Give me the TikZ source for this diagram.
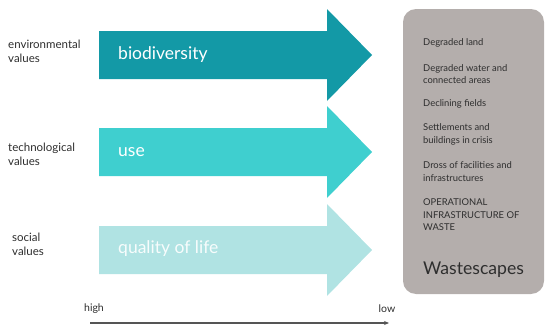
\documentclass[tikz,border=0pt]{standalone}
\usepackage{fontspec}
\setmainfont{Lato}
\usepackage{tikz}
\usetikzlibrary{arrows.meta,positioning}
\definecolor{deepteal}{HTML}{1399A6}
\definecolor{midteal}{HTML}{3FCFCF}
\definecolor{paleteal}{HTML}{B0E3E3}
\definecolor{wastegrey}{HTML}{B4AEAC}
\definecolor{ink}{HTML}{2E2E2E}
\definecolor{axisgrey}{HTML}{555555}
\tikzset{
    every picture/.style={line join=miter},
    valuelabel/.style={anchor=west,align=left,text=ink,inner sep=0pt,
      font=\fontsize{11.5}{14}\selectfont},
    arrowtext/.style={anchor=west,inner sep=0pt,text=white,
      font=\fontsize{17.5}{19}\selectfont},
    wastebox/.style={fill=wastegrey,rounded corners=13pt,inner sep=0pt,
      minimum width=141pt,minimum height=285pt},
    wasteitem/.style={anchor=west,align=left,text=ink,inner sep=0pt,
      font=\fontsize{9.4}{12.6}\selectfont},
    axislabel/.style={text=ink,inner sep=0pt,font=\fontsize{10.5}{12}\selectfont},
    axisarrow/.style={-{Stealth[length=5pt,width=4pt]},draw=axisgrey,line width=1.2pt}
}
\begin{document}
\begin{tikzpicture}[x=1pt,y=-1pt]
  \useasboundingbox (0,0) rectangle (550,332);
  % value arrows
  \fill[deepteal] (99,31) -- (327,31) -- (327,9) -- (372,55) -- (327,101) -- (327,79) -- (99,79) -- cycle;
  \fill[midteal] (99,128) -- (327,128) -- (327,106) -- (372,152) -- (327,198) -- (327,176) -- (99,176) -- cycle;
  \fill[paleteal] (99,226) -- (327,226) -- (327,204) -- (372,250) -- (327,296) -- (327,274) -- (99,274) -- cycle;
  \node[arrowtext] (bio) at (118,55) {biodiversity};
  \node[arrowtext] (use) at (118,152) {use};
  \node[arrowtext,text opacity=0.9] (qol) at (118,249) {quality of life};
  \node[valuelabel] (env) at (8,51) {environmental\\values};
  \node[valuelabel] (tech) at (8,154) {technological\\values};
  \node[valuelabel] (soc) at (12,244) {social\\values};
  % wastescapes box
  \node[wastebox] (box) at (473.5,151.5) {};
  \node[wasteitem] (land) at (423,43) {Degraded land};
  \node[wasteitem] (water) at (423,74) {Degraded water and\\connected areas};
  \node[wasteitem] (fields) at (423,104) {Declining fields};
  \node[wasteitem] (settle) at (423,134.5) {Settlements and\\buildings in crisis};
  \node[wasteitem] (dross) at (423,171.5) {Dross of facilities and\\infrastructures};
  \node[wasteitem] (oper) at (423,215) {OPERATIONAL\\INFRASTRUCTURE OF\\WASTE};
  \node[wasteitem,font=\fontsize{17.6}{20}\selectfont] (ws) at (423,270) {Wastescapes};
  % high to low
  \node[axislabel] (high) at (94,309) {high};
  \node[axislabel] (low) at (387,309) {low};
  \coordinate (a0) at (90,323);
  \coordinate (a1) at (389,323);
  \draw[axisarrow] (a0) -- (a1);
\end{tikzpicture}
\end{document}
